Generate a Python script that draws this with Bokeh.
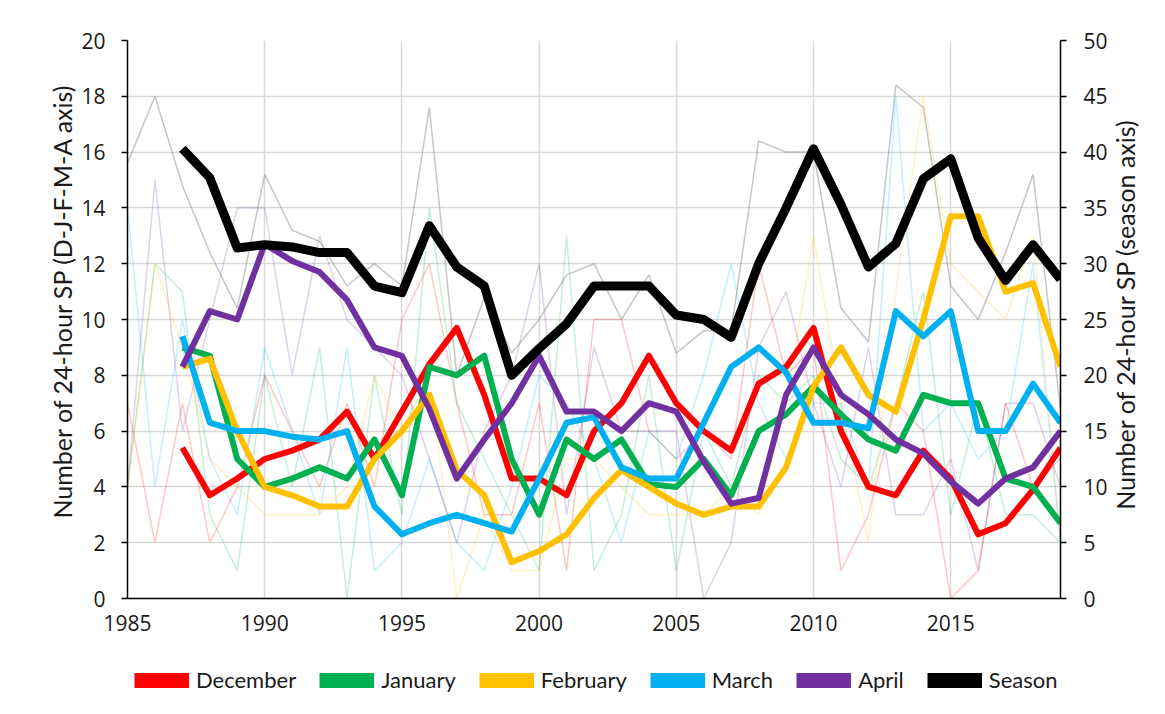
import math
from bokeh.plotting import figure
from bokeh.layouts import column, row
from bokeh.models import Range1d, LinearAxis, Legend, LegendItem, FixedTicker, Label
from bokeh.embed import file_html
from bokeh.resources import INLINE

years_raw = list(range(1985, 2020))
years_avg = list(range(1987, 2020))

# Thick lines: smoothed counts (left axis for months, right axis for season)
dec_avg = [5.4, 3.7, 4.3, 5.0, 5.3, 5.7, 6.7, 5.0, 6.7, 8.4, 9.7, 7.3, 4.3, 4.3, 3.7, 6.0,
           7.0, 8.7, 7.0, 6.0, 5.3, 7.7, 8.3, 9.7, 6.0, 4.0, 3.7, 5.3, 4.3, 2.3, 2.7, 3.9, 5.4]
jan_avg = [9.0, 8.7, 5.0, 4.0, 4.3, 4.7, 4.3, 5.7, 3.7, 8.3, 8.0, 8.7, 5.0, 3.0, 5.7, 5.0,
           5.7, 4.1, 4.0, 5.0, 3.7, 6.0, 6.6, 7.6, 6.6, 5.7, 5.3, 7.3, 7.0, 7.0, 4.3, 4.0, 2.7]
feb_avg = [8.3, 8.6, 6.0, 4.0, 3.7, 3.3, 3.3, 5.0, 6.0, 7.3, 4.6, 3.7, 1.3, 1.7, 2.3, 3.6,
           4.6, 4.0, 3.4, 3.0, 3.3, 3.3, 4.7, 7.6, 9.0, 7.3, 6.7, 10.0, 13.7, 13.7, 11.0, 11.3, 8.3]
mar_avg = [9.4, 6.3, 6.0, 6.0, 5.8, 5.7, 6.0, 3.3, 2.3, 2.7, 3.0, 2.7, 2.4, 4.3, 6.3, 6.5,
           4.7, 4.3, 4.3, 6.3, 8.3, 9.0, 8.1, 6.3, 6.3, 6.1, 10.3, 9.4, 10.3, 6.0, 6.0, 7.7, 6.3]
apr_avg = [8.3, 10.3, 10.0, 12.7, 12.1, 11.7, 10.7, 9.0, 8.7, 6.8, 4.3, 5.7, 7.0, 8.7, 6.7, 6.7,
           6.0, 7.0, 6.7, 4.9, 3.4, 3.6, 7.3, 9.0, 7.3, 6.6, 5.7, 5.2, 4.2, 3.4, 4.3, 4.7, 6.0]
season_avg = [40.3, 37.7, 31.4, 31.7, 31.5, 31.0, 31.0, 28.0, 27.4, 33.4, 29.7, 28.0, 20.0, 22.4,
              24.6, 28.0, 28.0, 28.0, 25.4, 25.0, 23.4, 30.0, 35.0, 40.3, 35.3, 29.7, 31.8, 37.6,
              39.4, 32.3, 28.5, 31.7, 28.6]

# Thin faint lines: annual counts
dec_raw = [7, 2, 7, 2, 4, 8, 6, 4, 7, 4, 10, 12, 7, 3, 3, 7, 1, 10, 10, 6, 5, 6, 5, 12, 8,
           9, 1, 3, 7, 6, 0, 1, 7, 4, 5]
jan_raw = [4, 12, 11, 3, 1, 8, 4, 9, 0, 8, 3, 14, 7, 5, 3, 1, 13, 1, 3, 8, 1, 6, 4, 8, 7,
           8, 5, 4, 7, 11, 3, 7, 3, 3, 2]
feb_raw = [4, 12, 9, 5, 4, 3, 3, 3, 4, 8, 6, 8, 0, 3, 1, 1, 5, 5, 4, 3, 3, 3, 4, 3, 7,
           13, 7, 2, 11, 18, 12, 11, 10, 13, 2]
mar_raw = [14, 4, 10, 5, 3, 9, 6, 3, 9, 1, 2, 5, 2, 1, 4, 8, 7, 5, 2, 6, 5, 8, 12, 7, 5,
           7, 7, 4, 18, 6, 7, 5, 6, 12, 2]
apr_raw = [4, 15, 6, 10, 14, 14, 8, 13, 10, 9, 8, 5, 2, 6, 8, 12, 3, 9, 6, 6, 6, 0, 2, 9, 11,
           7, 4, 9, 3, 3, 5, 1, 7, 7, 4]
season_raw = [39, 45, 37, 31, 26, 38, 33, 32, 28, 30, 28, 44, 20, 27, 22, 25, 29, 30, 25, 29,
              22, 24, 24, 41, 40, 40, 26, 23, 46, 44, 28, 25, 31, 38, 17]

names = ["December", "January", "February", "March", "April", "Season"]
colors = ["#FF0000", "#00B050", "#FFC000", "#00B0F0", "#7030A0", "#000000"]
x_ticks = [1985, 1990, 1995, 2000, 2005, 2010, 2015]
left_ticks = list(range(0, 21, 2))
right_ticks = list(range(0, 51, 5))
left_title = "Number of 24-hour SP (D-J-F-M-A axis)"
right_title = "Number of 24-hour SP (season axis)"

TXT = "#1a1a1a"
TOP, BOTTOM, FH = 40, 50, 558

p = figure(frame_width=933, frame_height=FH, output_backend="svg", toolbar_location=None,
           x_range=Range1d(1985, 2019), y_range=Range1d(0, 20),
           min_border_left=47, min_border_right=50, min_border_top=TOP, min_border_bottom=BOTTOM)
p.extra_y_ranges = {"season": Range1d(0, 50)}
p.outline_line_color = None
p.background_fill_color = "white"
p.border_fill_color = "white"

# faint raw lines
raws = [dec_raw, jan_raw, feb_raw, mar_raw, apr_raw]
for vals, c in zip(raws, colors[:5]):
    p.line(years_raw, vals, line_color=c, line_width=1.5, line_alpha=0.22)
p.line(years_raw, season_raw, line_color="#808080", line_width=1.5, line_alpha=0.45,
       y_range_name="season")

# thick smoothed lines
avgs = [dec_avg, jan_avg, feb_avg, mar_avg, apr_avg]
for vals, c in zip(avgs, colors[:5]):
    p.line(years_avg, vals, line_color=c, line_width=6, line_join="round")
p.line(years_avg, season_avg, line_color="#000000", line_width=9, line_join="round",
       y_range_name="season")

# axes
def style_axis(ax):
    ax.axis_line_color = "black"
    ax.axis_line_width = 1.5
    ax.major_tick_line_color = "black"
    ax.major_tick_line_width = 1.5
    ax.major_tick_in = 0
    ax.major_tick_out = 6
    ax.minor_tick_line_color = None
    ax.major_label_text_font = "Open Sans"
    ax.major_label_text_font_size = "21px"
    ax.major_label_text_color = TXT

style_axis(p.xaxis[0])
style_axis(p.yaxis[0])
p.xaxis.ticker = FixedTicker(ticks=x_ticks)
p.xaxis.major_tick_out = 0
p.xaxis.major_label_standoff = 16
p.yaxis.ticker = FixedTicker(ticks=left_ticks)
p.yaxis.major_label_standoff = 16

right = LinearAxis(y_range_name="season", ticker=FixedTicker(ticks=right_ticks))
style_axis(right)
right.major_label_standoff = 17
p.add_layout(right, "right")

p.xgrid.ticker = FixedTicker(ticks=x_ticks)
p.xgrid.grid_line_color = "#d9d9d9"
p.xgrid.grid_line_width = 1.5
p.ygrid.ticker = FixedTicker(ticks=left_ticks)
p.ygrid.grid_line_color = "#d9d9d9"
p.ygrid.grid_line_width = 1.5


def strip(w, x, y, text):
    s = figure(frame_width=w, frame_height=FH, output_backend="svg", toolbar_location=None,
               x_range=Range1d(0, w), y_range=Range1d(0, 20),
               x_axis_type=None, y_axis_type=None,
               min_border_left=0, min_border_right=0, min_border_top=TOP,
               min_border_bottom=BOTTOM)
    s.outline_line_color = None
    s.grid.visible = False
    s.add_layout(Label(x=x, y=y, text=text, angle=math.pi / 2, text_align="center",
                       text_baseline="middle", text_font="Lato", text_font_size="25px",
                       text_color=TXT))
    return s

left_strip = strip(78, 61, 10.68, left_title)
right_strip = strip(50, 14, 10.2, right_title)

# legend row in its own strip below the chart
lg = figure(frame_width=1160, frame_height=56, output_backend="svg", toolbar_location=None,
            x_range=Range1d(-10, -9), y_range=Range1d(-10, -9),
            x_axis_type=None, y_axis_type=None, min_border=0)
lg.outline_line_color = None
lg.grid.visible = False
items = []
for n, c in zip(names, colors):
    r = lg.line(x=[0, 1], y=[0, 1], line_color=c, line_width=15, line_cap="butt")
    items.append(LegendItem(label=n, renderers=[r]))
legend = Legend(items=items, orientation="horizontal", location=(134, 11),
                glyph_width=55, glyph_height=26, label_text_font="Lato",
                label_text_font_size="22px", label_text_color=TXT,
                spacing=23, label_standoff=7, border_line_color=None,
                background_fill_alpha=0, padding=0, margin=0, label_height=26)
lg.add_layout(legend, "center")

layout = column(row(left_strip, p, right_strip, spacing=0), lg, spacing=0)
open("out.html", "w").write(file_html(layout, INLINE))
